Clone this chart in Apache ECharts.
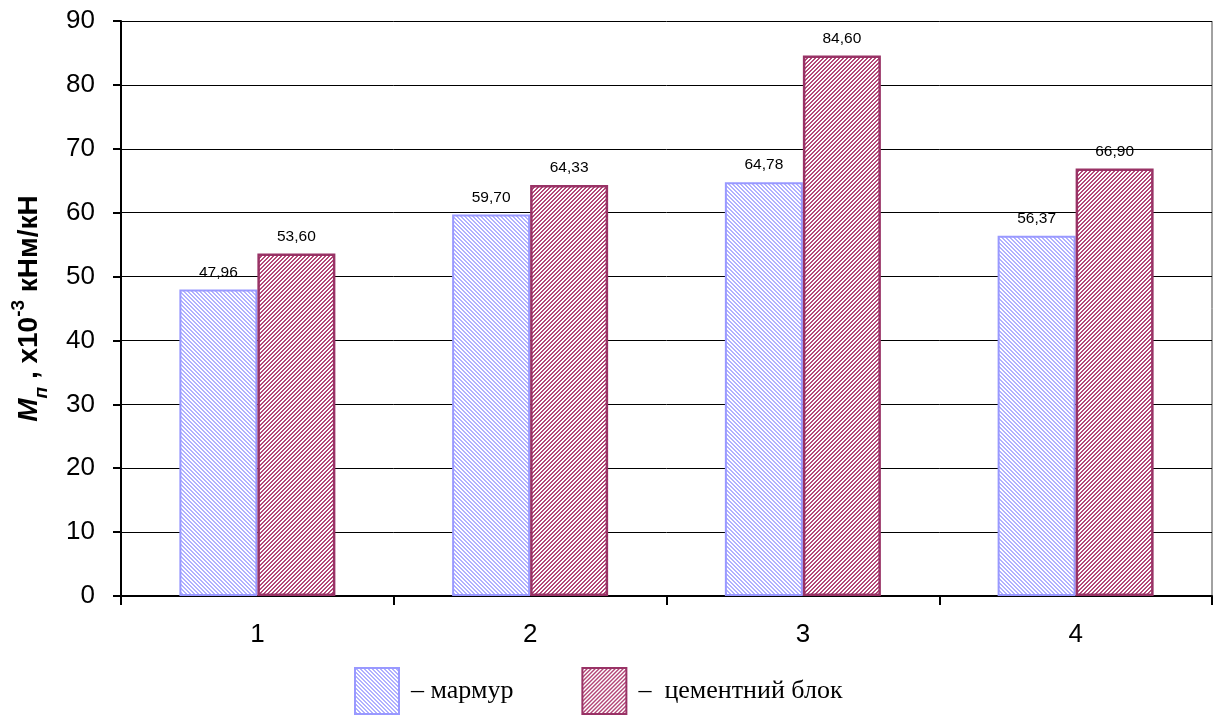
<!DOCTYPE html>
<html>
<head>
<meta charset="utf-8">
<script src="https://cdn.jsdelivr.net/npm/echarts@6/dist/echarts.min.js"></script>
<style>
html,body{margin:0;padding:0;background:#fff;}
#chart{width:1216px;height:715px;}
</style>
</head>
<body>
<div id="chart"></div>
<script>
const categories = ['1', '2', '3', '4'];
const seriesNames = ['мармур', 'цементний блок'];
const marble = [47.96, 59.70, 64.78, 56.37];
const cementBlock = [53.60, 64.33, 84.60, 66.90];
const yTicks = [0, 10, 20, 30, 40, 50, 60, 70, 80, 90];

function makePattern(color, dir) {
  const c = document.createElement('canvas');
  c.width = 4; c.height = 4;
  const ctx = c.getContext('2d');
  ctx.fillStyle = '#ffffff';
  ctx.fillRect(0, 0, 4, 4);
  ctx.fillStyle = color;
  for (let y = 0; y < 4; y++) {
    for (let x = 0; x < 4; x++) {
      const k = dir === 'back' ? ((x - y) % 4 + 4) % 4 : (x + y) % 4;
      if (k === 0 || k === 1) ctx.fillRect(x, y, 1, 1);
    }
  }
  return { image: c, repeat: 'repeat' };
}

const fmt = v => v.toFixed(2).replace('.', ',');
const chart = echarts.init(document.getElementById('chart'), null, { renderer: 'canvas' });

const labelCfg = {
  show: true, position: 'top', distance: 9,
  fontFamily: 'Liberation Sans, Arial', fontSize: 15.5, color: '#000',
  formatter: p => fmt(p.value)
};

chart.setOption({
  animation: false,
  backgroundColor: '#fff',
  grid: { left: 121, right: 4, top: 21, bottom: 119, containLabel: false },
  legend: {
    left: 349, top: 662,
    itemWidth: 44, itemHeight: 46, itemGap: 68,
    icon: 'rect',
    data: seriesNames,
    formatter: n => n === seriesNames[0] ? '– ' + n : '–  ' + n,
    textStyle: { fontFamily: 'Liberation Serif, Times New Roman', fontSize: 26, color: '#000', padding: [0, 0, 0, 7] }
  },
  xAxis: {
    type: 'category', data: categories,
    axisLine: { lineStyle: { color: '#000', width: 2 } },
    axisTick: { show: true, length: 9, lineStyle: { color: '#000', width: 2 } },
    axisLabel: { fontFamily: 'Liberation Sans, Arial', fontSize: 26, color: '#000', margin: 26 }
  },
  yAxis: {
    type: 'value', min: 0, max: 90, interval: 10,
    axisLine: { show: true, lineStyle: { color: '#000', width: 2 } },
    axisTick: { show: true, length: 8, lineStyle: { color: '#000', width: 2 } },
    axisLabel: { fontFamily: 'Liberation Sans, Arial', fontSize: 26, color: '#000', margin: 26,
      formatter: v => yTicks.includes(v) ? String(v) : '' },
    splitLine: { show: true, lineStyle: { color: '#000', width: 1 } },
    name: '{m|M}{sub|п}{t| , x10}{sup|-3}{t| кНм/кН}',
    nameLocation: 'middle', nameRotate: 90, nameGap: 74,
    nameTextStyle: {
      fontFamily: 'Liberation Sans, Arial', fontWeight: 'bold', color: '#000',
      rich: {
        m: { fontFamily: 'Liberation Sans, Arial', fontSize: 28, fontWeight: 'bold', fontStyle: 'italic', color: '#000', lineHeight: 36, verticalAlign: 'middle' },
        sub: { fontFamily: 'Liberation Sans, Arial', fontSize: 19, fontWeight: 'bold', fontStyle: 'italic', color: '#000', verticalAlign: 'bottom', lineHeight: 36, padding: [0, 0, -4, 0] },
        t: { fontFamily: 'Liberation Sans, Arial', fontSize: 28, fontWeight: 'bold', color: '#000', lineHeight: 36, verticalAlign: 'middle' },
        sup: { fontFamily: 'Liberation Sans, Arial', fontSize: 19, fontWeight: 'bold', color: '#000', verticalAlign: 'top', lineHeight: 36, padding: [-2, 0, 0, 0] }
      }
    }
  },
  graphic: [{
    type: 'line', shape: { x1: 1212, y1: 21, x2: 1212, y2: 596 },
    style: { stroke: '#444', lineWidth: 1 }, silent: true
  }],
  series: [
    {
      name: seriesNames[0], type: 'bar', data: marble,
      barWidth: 78, barGap: '0%',
      itemStyle: { color: makePattern('#b0b0ff', 'back'), borderColor: '#9999ff', borderWidth: 2 },
      label: labelCfg
    },
    {
      name: seriesNames[1], type: 'bar', data: cementBlock,
      barWidth: 78, barGap: '0%',
      itemStyle: { color: makePattern('#b34777', 'fwd'), borderColor: '#993366', borderWidth: 2.5 },
      label: labelCfg
    }
  ]
});
</script>
</body>
</html>
